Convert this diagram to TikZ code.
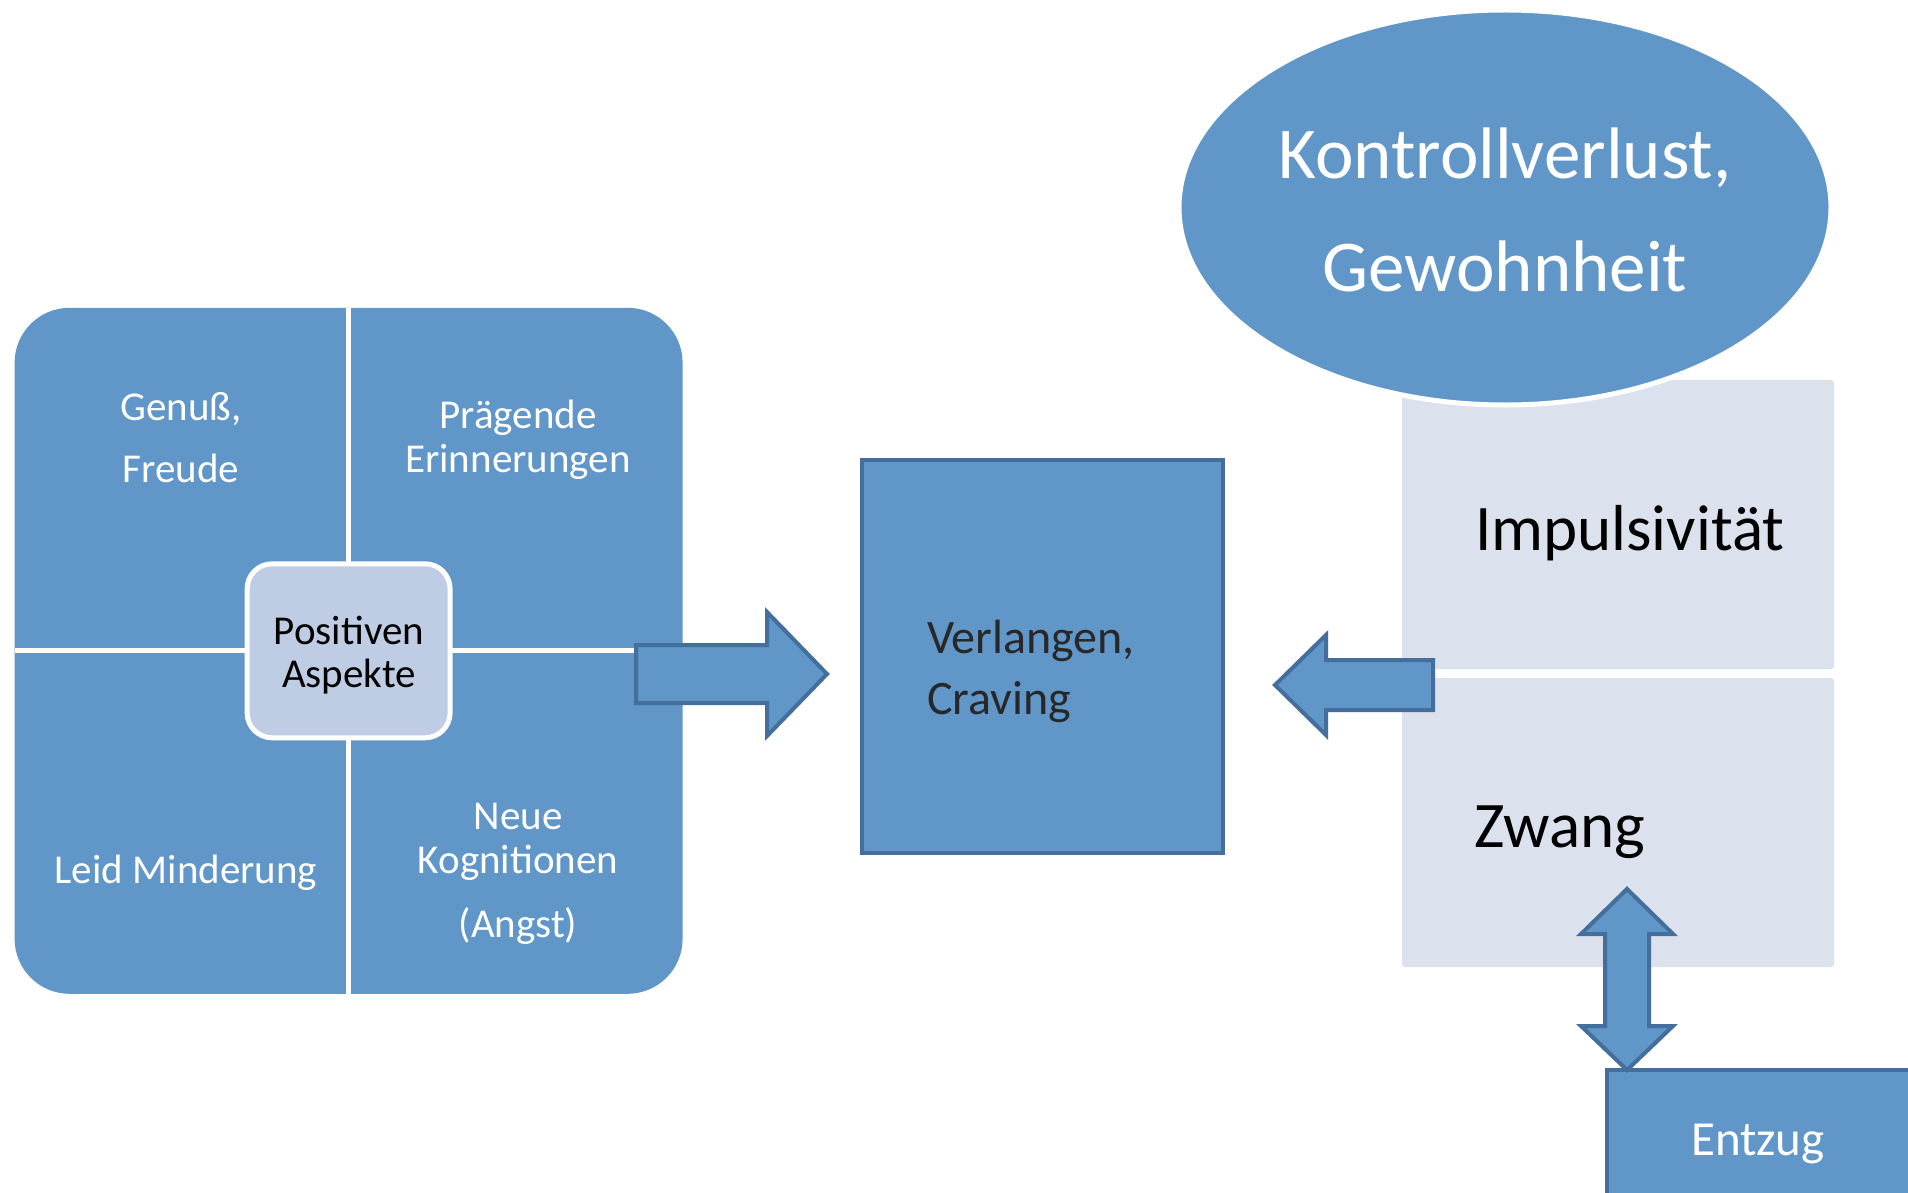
\documentclass[tikz,border=0pt]{standalone}
\usepackage{fontspec}
\setmainfont{Carlito}
\usetikzlibrary{shapes.geometric}
\definecolor{blu}{RGB}{96,150,200}
\definecolor{bluedge}{RGB}{68,110,155}
\definecolor{pale}{RGB}{220,225,238}
\definecolor{midblu}{RGB}{191,205,228}
\definecolor{darktxt}{RGB}{40,40,40}
\newcommand{\fs}[1]{\fontsize{#1}{#1}\selectfont}
\tikzset{
  every node/.style={inner sep=0pt, outer sep=0pt},
  qtxt/.style={text=white, font=\fs{41}, anchor=base},
  blockarrow/.style={fill=blu, draw=bluedge, line width=4pt, line join=miter},
  bluebox/.style={fill=blu, draw=bluedge, line width=4pt, anchor=north west},
  palebox/.style={fill=pale, rounded corners=3pt, anchor=north west, minimum width=432pt, minimum height=289pt}
}
\begin{document}
\begin{tikzpicture}[x=1pt,y=-1pt]
\useasboundingbox (0,0) rectangle (1908,1193);
\clip (0,0) rectangle (1908,1193);
\fill[white] (0,0) rectangle (1908,1193);

% left matrix
\node[fill=blu, rounded corners=55pt, minimum width=668pt, minimum height=686pt, anchor=north west] (quad) at (14.6,307.8) {};
\draw[white, line width=5pt] (quad.north) -- (quad.south);
\draw[white, line width=5pt] (quad.west) -- (quad.east);
\node[fill=midblu, draw=white, line width=5pt, rounded corners=25pt, minimum width=203pt, minimum height=174pt] (pos) at (quad.center) {};
\node[qtxt] (t1) at (181,420) {Genuß,};
\node[qtxt] (t2) at (181,482) {Freude};
\node[qtxt] (t3) at (518,428) {Prägende};
\node[qtxt] (t4) at (518,472) {Erinnerungen};
\node[qtxt, text=black] (t5) at (349,644) {Positiven};
\node[qtxt, text=black] (t6) at (349,687) {Aspekte};
\node[qtxt] (t7) at (186,883) {Leid Minderung};
\node[qtxt] (t8) at (518,829) {Neue};
\node[qtxt] (t9) at (518,873) {Kognitionen};
\node[qtxt] (t10) at (518,937) {(Angst)};

% right arrow
\draw[blockarrow] (636,645) -- (767,645) -- (767,612) -- (827,674) -- (767,736) -- (767,703) -- (636,703) -- cycle;

% Verlangen box
\node[bluebox, minimum width=361pt, minimum height=393pt] (verl) at (861.5,460) {};
\node[anchor=base west, text=darktxt, font=\fs{48}] (v1) at (927,653) {Verlangen,};
\node[anchor=base west, text=darktxt, font=\fs{48}] (v2) at (927,714) {Craving};

% right panels
\node[palebox] (imp) at (1402,380) {};
\node[palebox] (zw) at (1402,678) {};
\node[anchor=base west, font=\fs{65}] (it) at (1475,550) {Impulsivität};
\node[anchor=base west, font=\fs{65}] (zt) at (1474,847) {Zwang};

% ellipse
\node[ellipse, fill=blu, draw=white, line width=5pt, minimum width=652pt, minimum height=395pt] (kv) at (1505,207.5) {};
\node[anchor=base, text=white, font=\fs{73}] (k1) at (1505,179) {Kontrollverlust,};
\node[anchor=base, text=white, font=\fs{73}] (k2) at (1505,291) {Gewohnheit};

% left arrow
\draw[blockarrow] (1433,660) -- (1326,660) -- (1326,635) -- (1275,685) -- (1326,735) -- (1326,710) -- (1433,710) -- cycle;

% Entzug
\node[bluebox, minimum width=330pt, minimum height=150pt] (ent) at (1607,1070) {};
\node[anchor=base, text=white, font=\fs{49}] (et) at (1758,1155) {Entzug};

% double arrow
\draw[blockarrow] (1627,889) -- (1673,934) -- (1649,934) -- (1649,1026) -- (1673,1026) -- (1627,1070) -- (1581,1026) -- (1605,1026) -- (1605,934) -- (1581,934) -- cycle;
\end{tikzpicture}
\end{document}
